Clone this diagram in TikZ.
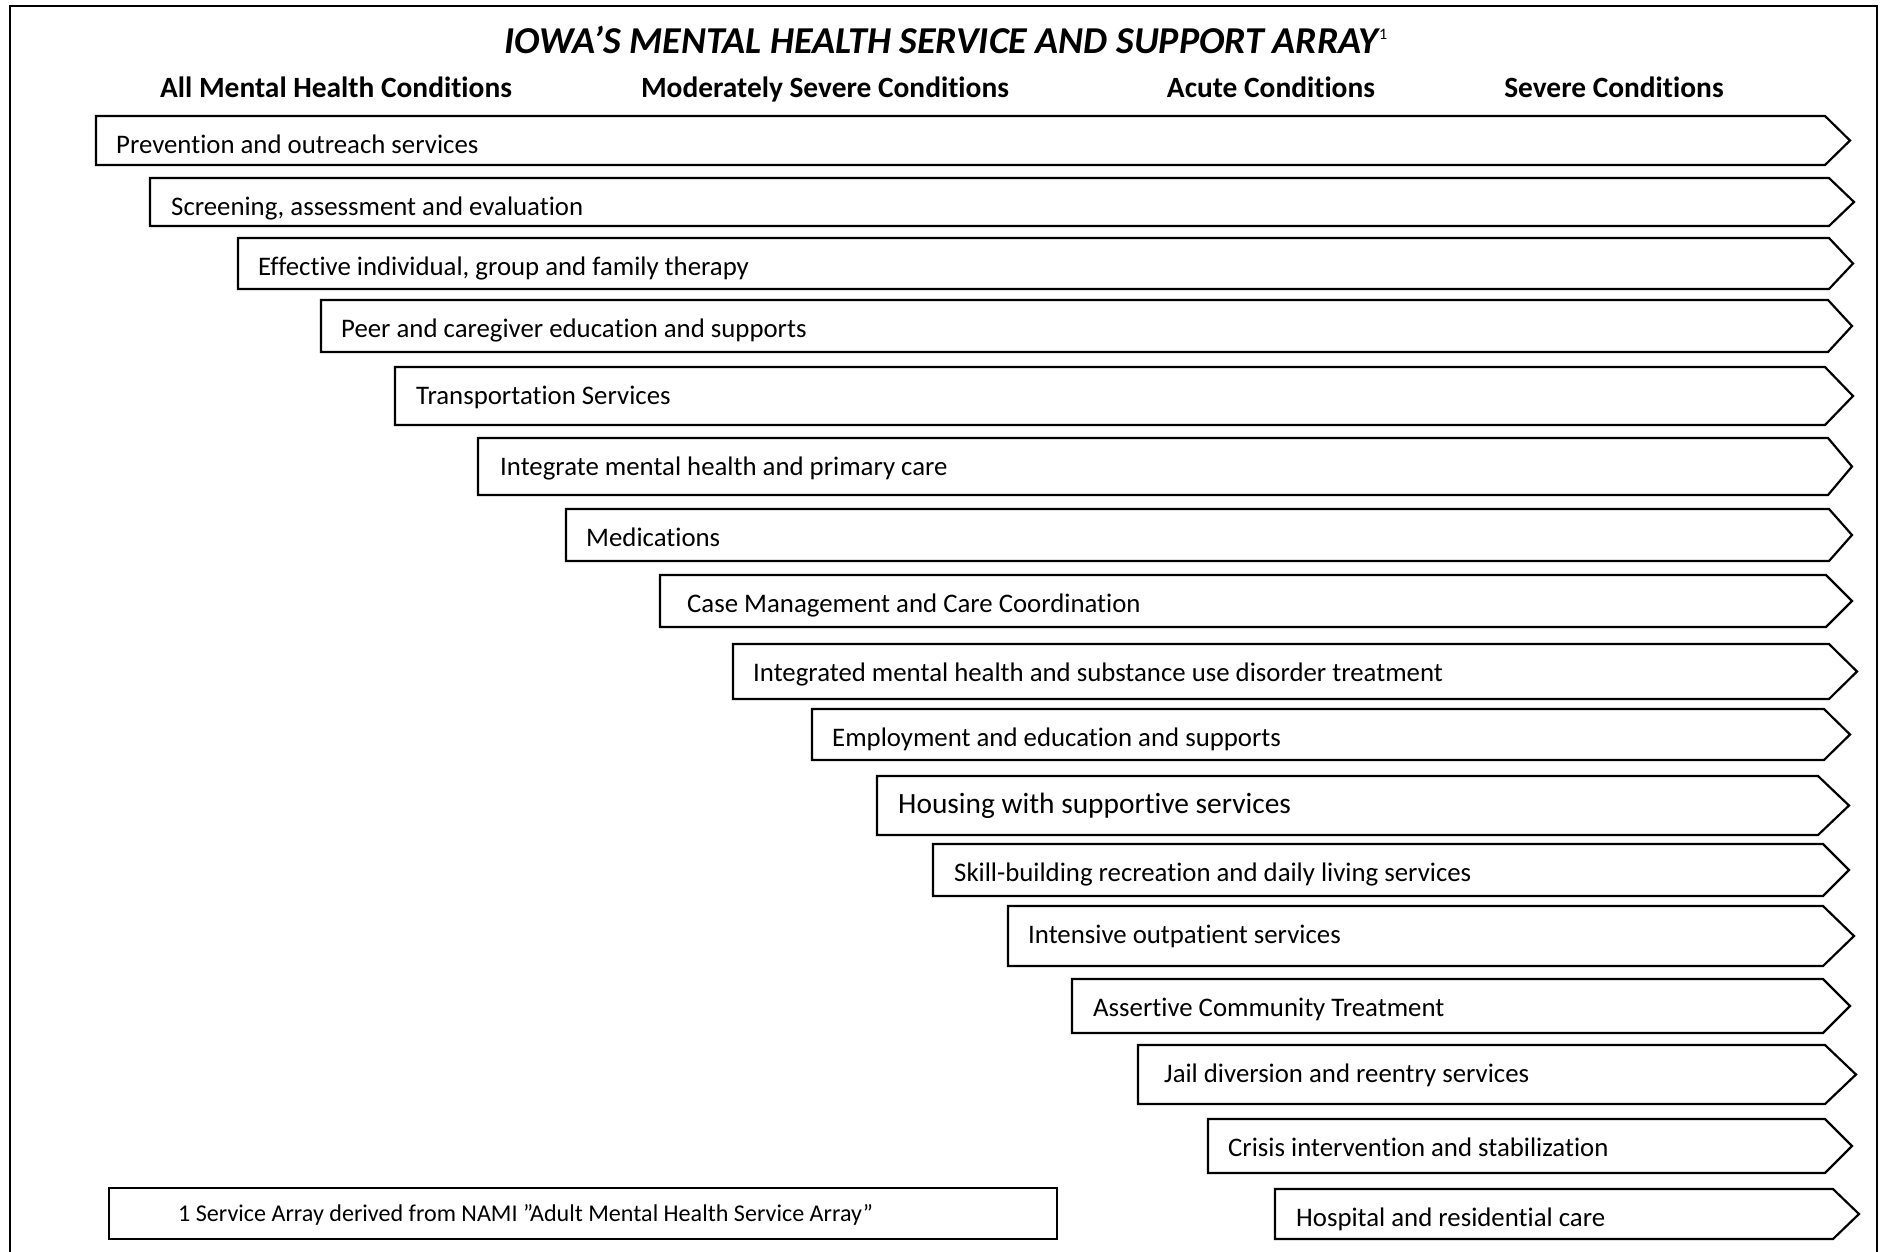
\documentclass[tikz,border=0pt]{standalone}
\usepackage{fontspec}
\setmainfont{Carlito}[Ligatures=NoCommon]
\newcommand\svcarrow[9]{%
  \draw[box] (#2,#3) -- (#5,#3) -- (#6,{(#3+#4)/2}) -- (#5,#4) -- (#2,#4) -- cycle;
  \node[lbl,font=\fontsize{#9}{#9}\selectfont] (#1) at (#7,{#3+37.5}) {#8};}
\begin{document}
\begin{tikzpicture}[x=1pt,y=-1pt,
  box/.style={draw=black,line width=2.2pt,line join=miter,fill=white},
  lbl/.style={anchor=base west,inner sep=0pt},
  head/.style={anchor=base,inner sep=0pt,font=\fontsize{29.4}{29.4}\selectfont\bfseries},
  frame/.style={draw=black,line width=2pt}]
\useasboundingbox (0,0) rectangle (1883,1251);
\draw[frame] (10,1255) -- (10,6) -- (1877,6) -- (1877,1255);
\node[anchor=base,inner sep=0pt,font=\fontsize{38}{38}\selectfont\bfseries\itshape] (title) at (946,53) {IOWA’S MENTAL HEALTH SERVICE AND SUPPORT ARRAY\kern1pt\raisebox{14pt}{\fontsize{16}{16}\selectfont\upshape\mdseries 1}};
\node[head] (h1) at (336,97) {All Mental Health Conditions};
\node[head] (h2) at (825,97) {Moderately Severe Conditions};
\node[head] (h3) at (1271,97) {Acute Conditions};
\node[head] (h4) at (1614,97) {Severe Conditions};
\svcarrow{a1}{96}{116}{165}{1825}{1850}{116}{Prevention and outreach services}{26.8}
\svcarrow{a2}{150}{178}{226}{1829}{1854}{171}{Screening, assessment and evaluation}{26.8}
\svcarrow{a3}{238}{238}{289}{1829}{1853}{258}{Effective individual, group and family therapy}{26.8}
\svcarrow{a4}{321}{300}{352}{1828}{1852}{341}{Peer and caregiver education and supports}{26.8}
\svcarrow{a5}{395}{367}{425}{1825}{1853}{416}{Transportation Services}{26.8}
\svcarrow{a6}{478}{438}{495}{1828}{1852}{500}{Integrate mental health and primary care}{26.8}
\svcarrow{a7}{566}{509}{561}{1829}{1852}{586}{Medications}{26.8}
\svcarrow{a8}{660}{575}{627}{1826}{1852}{687}{Case Management and Care Coordination}{26.8}
\svcarrow{a9}{733}{644}{699}{1829}{1857}{753}{Integrated mental health and substance use disorder treatment}{26.8}
\svcarrow{a10}{812}{709}{760}{1824}{1850}{832}{Employment and education and supports}{26.8}
\svcarrow{a11}{877}{776}{835}{1818}{1849}{898}{Housing with supportive services}{29.4}
\svcarrow{a12}{933}{844}{896}{1823}{1849}{954}{Skill-building recreation and daily living services}{26.8}
\svcarrow{a13}{1008}{906}{966}{1823}{1854}{1028}{Intensive outpatient services}{26.8}
\svcarrow{a14}{1072}{979}{1033}{1823}{1850}{1093}{Assertive Community Treatment}{26.8}
\svcarrow{a15}{1138}{1045}{1104}{1825}{1856}{1164}{Jail diversion and reentry services}{26.8}
\svcarrow{a16}{1208}{1119}{1173}{1825}{1852}{1228}{Crisis intervention and stabilization}{26.8}
\svcarrow{a17}{1275}{1189}{1239}{1833}{1859}{1296}{Hospital and residential care}{26.8}
\draw[draw=black,line width=1.5pt] (109,1188) rectangle (1057,1239);
\node[lbl,font=\fontsize{24.1}{24.1}\selectfont] (fn) at (178,1221) {1 Service Array derived from NAMI ”Adult Mental Health Service Array”};
\end{tikzpicture}
\end{document}
